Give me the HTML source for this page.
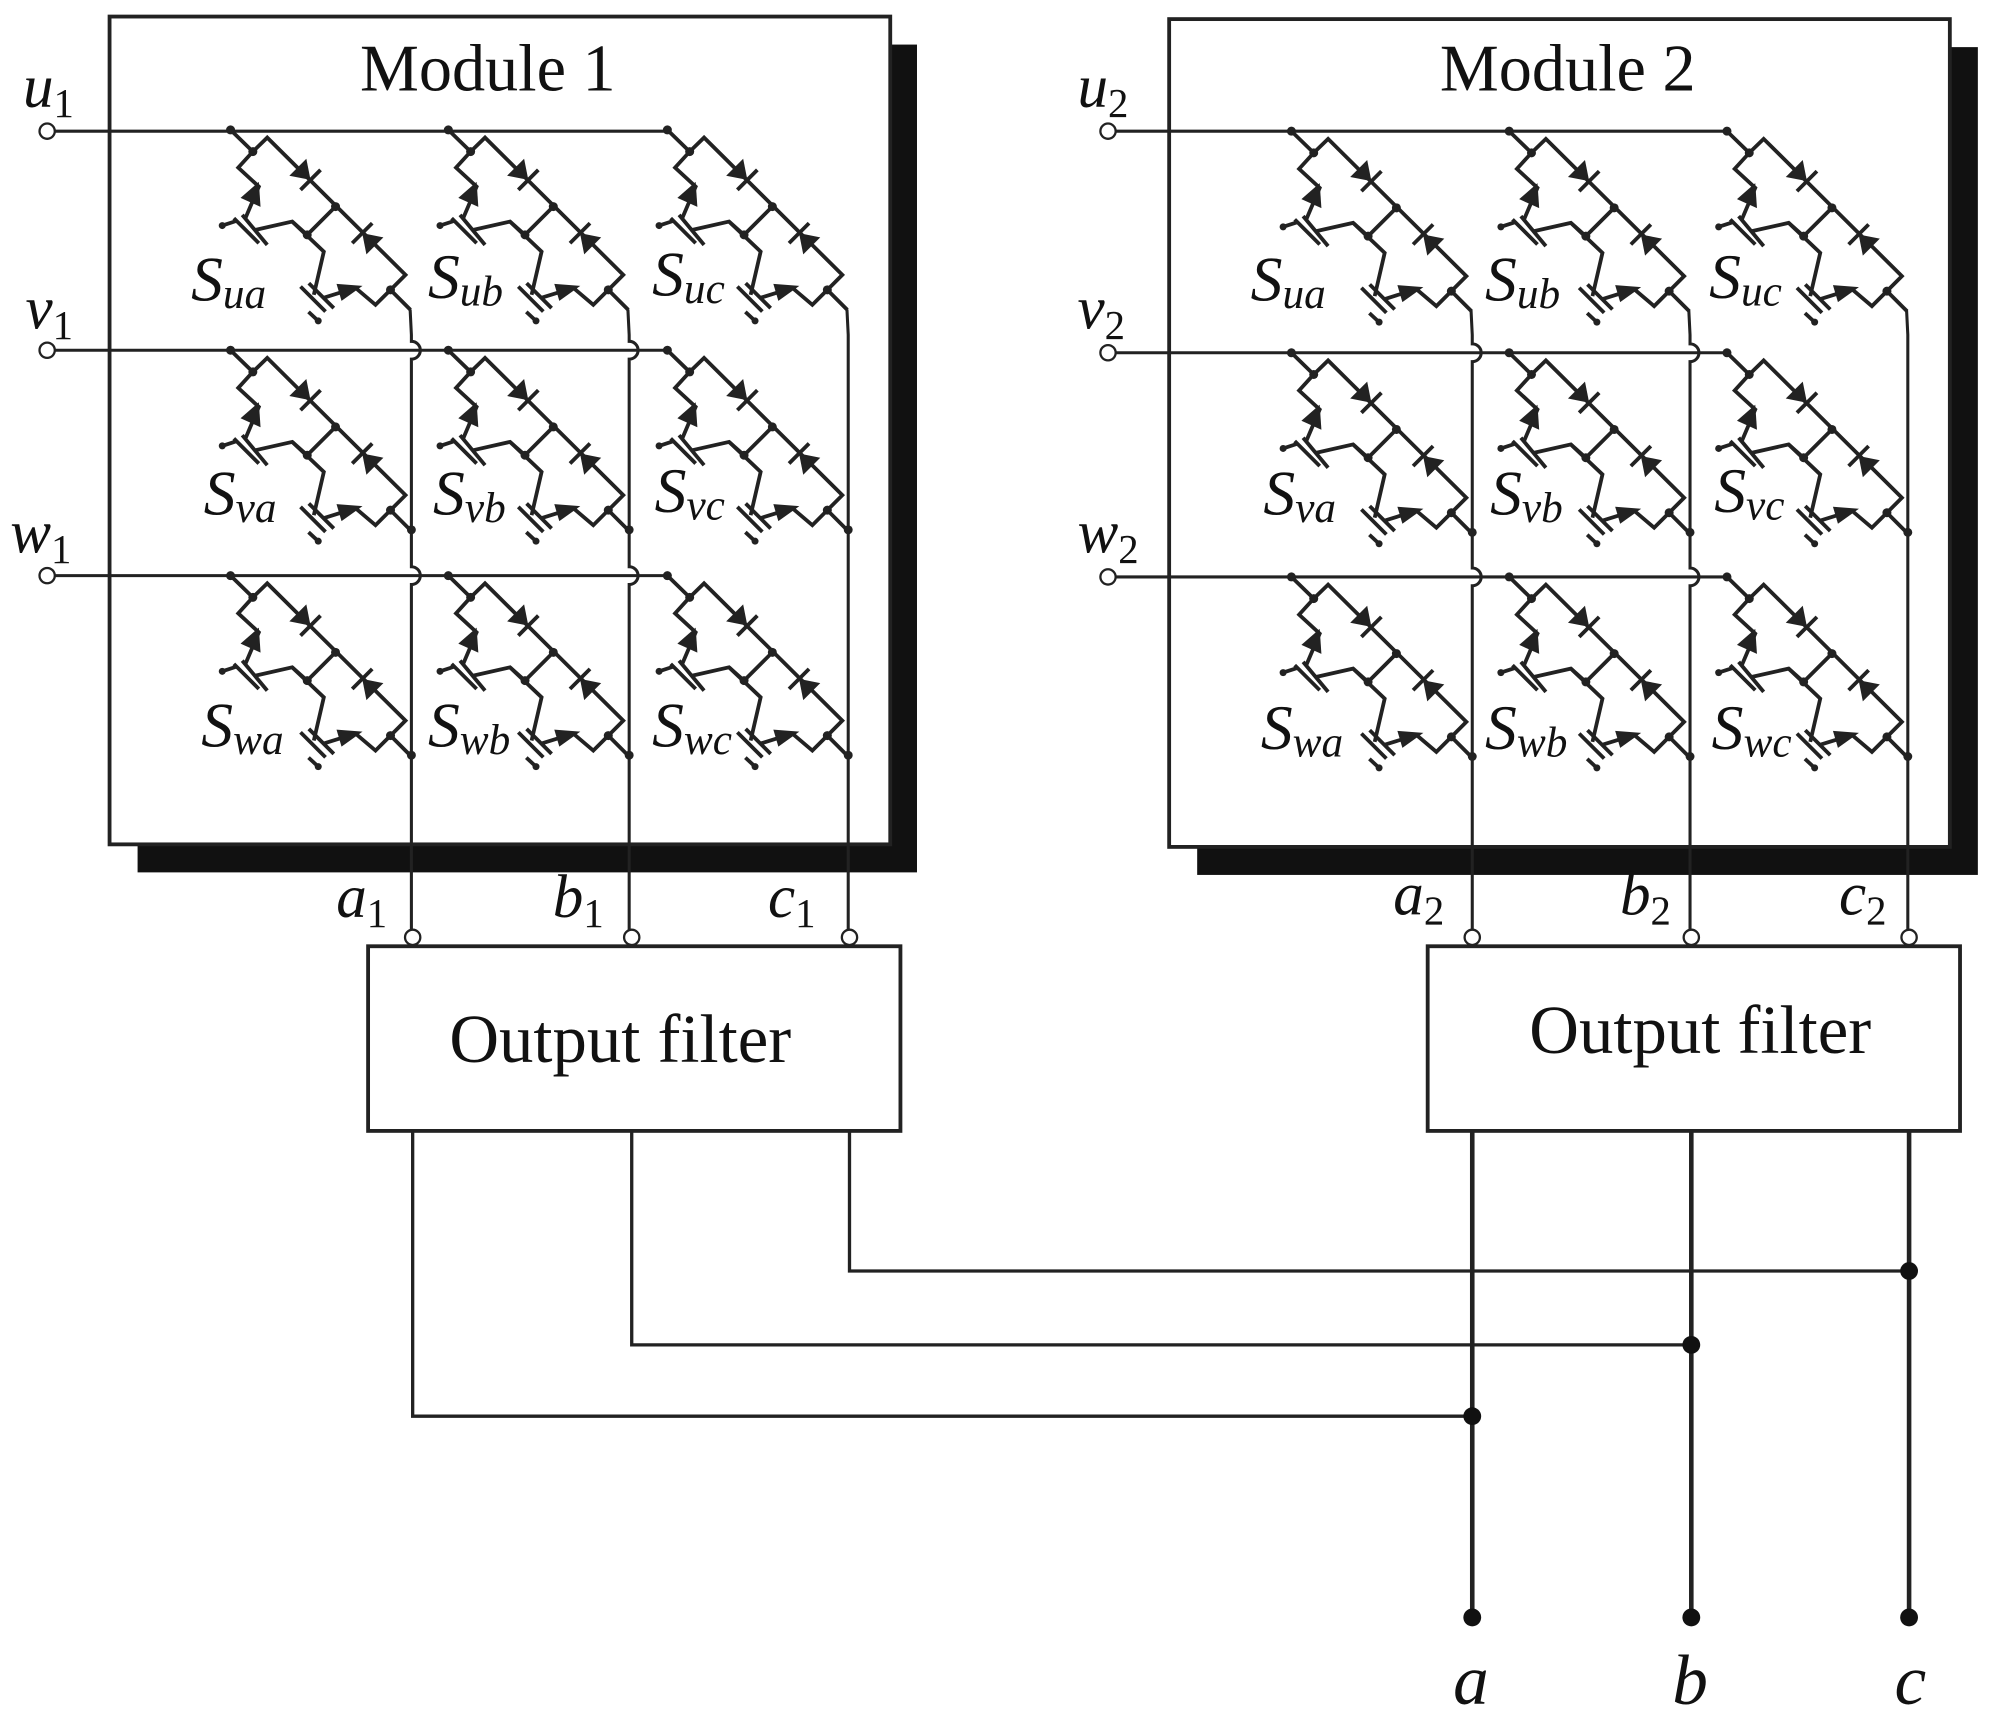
<!DOCTYPE html>
<html><head><meta charset="utf-8"><style>
html,body{margin:0;padding:0;background:#fff}
svg{display:block}
text{font-family:"Liberation Serif",serif;fill:#111}
.it{font-style:italic}
</style></head><body>
<svg width="1997" height="1724" viewBox="0 0 1568 1353.7" xmlns="http://www.w3.org/2000/svg">
<defs>
<g id="cell" fill="none" stroke="#222" stroke-width="3.8" stroke-linejoin="miter">
  <path d="M0,0 L22.3,21.7 L36.7,7.7 L175,145 L160,160 L180,180"/>
  <path d="M22.3,21.7 L7.7,37.7 L28.3,56.7 L15,88"/>
  <path d="M3.3,88.3 L28.3,113.3 M11.7,85 L36.7,115"/>
  <path d="M-8.3,95.7 L6,91"/>
  <path d="M25,100 L61.7,91.7 L76.7,105 L105,76.7"/>
  <path d="M61.7,91.7 L93.3,121.7 L83.3,165"/>
  <path d="M70,156.7 L95,181.7 M78.3,153.3 L103.3,178.3"/>
  <path d="M87.7,191 L78,182"/>
  <path d="M93,168 L125,158 L145,175 L160,160"/>
  <path d="M70,60 L90,40" />
  <path d="M121.7,113.3 L141.7,93.3"/>
  <g fill="#222" stroke="none">
    <polygon points="80,50 58.8,45.8 75.8,28.8"/>
    <polygon points="131.7,103.3 152.9,107.5 135.9,124.5"/>
    <polygon points="28.3,52 10,68 30,77"/>
    <polygon points="132,156 106,154 111,171"/>
    <circle cx="0" cy="0" r="4.5"/>
    <circle cx="22.3" cy="21.7" r="4.5"/>
    <circle cx="105" cy="76.7" r="4.5"/>
    <circle cx="76.7" cy="105" r="4.5"/>
    <circle cx="160" cy="160" r="4.5"/>
    <circle cx="-8.3" cy="95.7" r="3.5"/>
    <circle cx="87.7" cy="191" r="3.5"/>
  </g>
</g>
</defs>

<rect x="108" y="35" width="612" height="650" fill="#111"/>
<rect x="940" y="37" width="613" height="650" fill="#111"/>
<rect x="86" y="13" width="613" height="650" fill="#fff" stroke="#222" stroke-width="3"/>
<rect x="918" y="15" width="613" height="650" fill="#fff" stroke="#222" stroke-width="3"/>

<text x="383" y="71" font-size="52" text-anchor="middle">Module 1</text>
<text x="1231" y="71" font-size="52" text-anchor="middle">Module 2</text>

<g stroke="#222" stroke-width="2.4" fill="none">
  <path d="M42,103 H524 M42,275 H524 M42,452 H524"/>
  <path d="M875,103 H1356 M875,277 H1356 M875,453 H1356"/>
  <path d="M322,243 L323,263 V268 a7,7 0 0 1 0,14 V445 a7,7 0 0 1 0,14 V730"/>
  <path d="M493,243 L494,263 V268 a7,7 0 0 1 0,14 V445 a7,7 0 0 1 0,14 V730"/>
  <path d="M665,243 L666,263 V730"/>
  <path d="M1155,243 L1156,263 V270 a7,7 0 0 1 0,14 V446 a7,7 0 0 1 0,14 V730"/>
  <path d="M1326,243 L1327,263 V270 a7,7 0 0 1 0,14 V446 a7,7 0 0 1 0,14 V730"/>
  <path d="M1497,243 L1498,263 V730"/>
</g>

<use href="#cell" transform="translate(181,102) scale(0.785)"/>
<use href="#cell" transform="translate(352,102) scale(0.785)"/>
<use href="#cell" transform="translate(524,102) scale(0.785)"/>
<use href="#cell" transform="translate(181,275) scale(0.785)"/>
<use href="#cell" transform="translate(352,275) scale(0.785)"/>
<use href="#cell" transform="translate(524,275) scale(0.785)"/>
<use href="#cell" transform="translate(181,452) scale(0.785)"/>
<use href="#cell" transform="translate(352,452) scale(0.785)"/>
<use href="#cell" transform="translate(524,452) scale(0.785)"/>
<use href="#cell" transform="translate(1014,103) scale(0.785)"/>
<use href="#cell" transform="translate(1185,103) scale(0.785)"/>
<use href="#cell" transform="translate(1356,103) scale(0.785)"/>
<use href="#cell" transform="translate(1014,277) scale(0.785)"/>
<use href="#cell" transform="translate(1185,277) scale(0.785)"/>
<use href="#cell" transform="translate(1356,277) scale(0.785)"/>
<use href="#cell" transform="translate(1014,453) scale(0.785)"/>
<use href="#cell" transform="translate(1185,453) scale(0.785)"/>
<use href="#cell" transform="translate(1356,453) scale(0.785)"/>

<g fill="#222">
  <circle cx="323" cy="416" r="3.5"/><circle cx="494" cy="416" r="3.5"/><circle cx="666" cy="416" r="3.5"/>
  <circle cx="323" cy="593" r="3.5"/><circle cx="494" cy="593" r="3.5"/><circle cx="666" cy="593" r="3.5"/>
  <circle cx="1156" cy="418" r="3.5"/><circle cx="1327" cy="418" r="3.5"/><circle cx="1498" cy="418" r="3.5"/>
  <circle cx="1156" cy="594" r="3.5"/><circle cx="1327" cy="594" r="3.5"/><circle cx="1498" cy="594" r="3.5"/>
</g>

<g fill="#fff" stroke="#222" stroke-width="1.8">
  <circle cx="37" cy="103" r="6"/><circle cx="37" cy="275" r="6"/><circle cx="37" cy="452" r="6"/>
  <circle cx="870" cy="103" r="6"/><circle cx="870" cy="277" r="6"/><circle cx="870" cy="453" r="6"/>
  <circle cx="324" cy="736" r="6"/><circle cx="496" cy="736" r="6"/><circle cx="667" cy="736" r="6"/>
  <circle cx="1156" cy="736" r="6"/><circle cx="1328" cy="736" r="6"/><circle cx="1499" cy="736" r="6"/>
</g>

<g font-size="48">
  <text x="18" y="84" class="it">u<tspan font-size="32" font-style="normal" dy="8">1</tspan></text>
  <text x="20" y="258" class="it">v<tspan font-size="32" font-style="normal" dy="8">1</tspan></text>
  <text x="8" y="434" class="it">w<tspan font-size="32" font-style="normal" dy="8">1</tspan></text>
  <text x="846" y="84" class="it">u<tspan font-size="32" font-style="normal" dy="8">2</tspan></text>
  <text x="846" y="258" class="it">v<tspan font-size="32" font-style="normal" dy="8">2</tspan></text>
  <text x="846" y="434" class="it">w<tspan font-size="32" font-style="normal" dy="8">2</tspan></text>
  <text x="264" y="720" class="it">a<tspan font-size="32" font-style="normal" dy="8">1</tspan></text>
  <text x="434" y="720" class="it">b<tspan font-size="32" font-style="normal" dy="8">1</tspan></text>
  <text x="603" y="720" class="it">c<tspan font-size="32" font-style="normal" dy="8">1</tspan></text>
  <text x="1094" y="718" class="it">a<tspan font-size="32" font-style="normal" dy="8">2</tspan></text>
  <text x="1272" y="718" class="it">b<tspan font-size="32" font-style="normal" dy="8">2</tspan></text>
  <text x="1444" y="718" class="it">c<tspan font-size="32" font-style="normal" dy="8">2</tspan></text>
</g>

<g font-size="50">
  <text x="150" y="236" class="it">S<tspan font-size="34" dy="6">ua</tspan></text>
  <text x="336" y="234" class="it">S<tspan font-size="34" dy="6">ub</tspan></text>
  <text x="512" y="232" class="it">S<tspan font-size="34" dy="6">uc</tspan></text>
  <text x="160" y="404" class="it">S<tspan font-size="34" dy="6">va</tspan></text>
  <text x="340" y="404" class="it">S<tspan font-size="34" dy="6">vb</tspan></text>
  <text x="514" y="402" class="it">S<tspan font-size="34" dy="6">vc</tspan></text>
  <text x="158" y="586" class="it">S<tspan font-size="34" dy="6">wa</tspan></text>
  <text x="336" y="586" class="it">S<tspan font-size="34" dy="6">wb</tspan></text>
  <text x="512" y="586" class="it">S<tspan font-size="34" dy="6">wc</tspan></text>
  <text x="982" y="236" class="it">S<tspan font-size="34" dy="6">ua</tspan></text>
  <text x="1166" y="236" class="it">S<tspan font-size="34" dy="6">ub</tspan></text>
  <text x="1342" y="234" class="it">S<tspan font-size="34" dy="6">uc</tspan></text>
  <text x="992" y="404" class="it">S<tspan font-size="34" dy="6">va</tspan></text>
  <text x="1170" y="404" class="it">S<tspan font-size="34" dy="6">vb</tspan></text>
  <text x="1346" y="402" class="it">S<tspan font-size="34" dy="6">vc</tspan></text>
  <text x="990" y="588" class="it">S<tspan font-size="34" dy="6">wa</tspan></text>
  <text x="1166" y="588" class="it">S<tspan font-size="34" dy="6">wb</tspan></text>
  <text x="1344" y="588" class="it">S<tspan font-size="34" dy="6">wc</tspan></text>
</g>

<rect x="289" y="743" width="418" height="145" fill="#fff" stroke="#222" stroke-width="3"/>
<rect x="1121" y="743" width="418" height="145" fill="#fff" stroke="#222" stroke-width="3"/>
<text x="487" y="834" font-size="54" text-anchor="middle">Output filter</text>
<text x="1335" y="827" font-size="54" text-anchor="middle">Output filter</text>

<g fill="none" stroke="#222">
  <path d="M324,888 V1112 H1156 M496,888 V1056 H1328 M667,888 V998 H1499" stroke-width="2.6"/>
  <path d="M1156,888 V1270 M1328,888 V1270 M1499,888 V1270" stroke-width="3.6"/>
</g>
<g fill="#111">
  <circle cx="1156" cy="1112" r="7"/><circle cx="1328" cy="1056" r="7"/><circle cx="1499" cy="998" r="7"/>
  <circle cx="1156" cy="1270" r="7"/><circle cx="1328" cy="1270" r="7"/><circle cx="1499" cy="1270" r="7"/>
</g>
<g font-size="56" text-anchor="middle">
  <text x="1155" y="1338" class="it">a</text>
  <text x="1327" y="1338" class="it">b</text>
  <text x="1500" y="1338" class="it">c</text>
</g>
</svg>
</body></html>
